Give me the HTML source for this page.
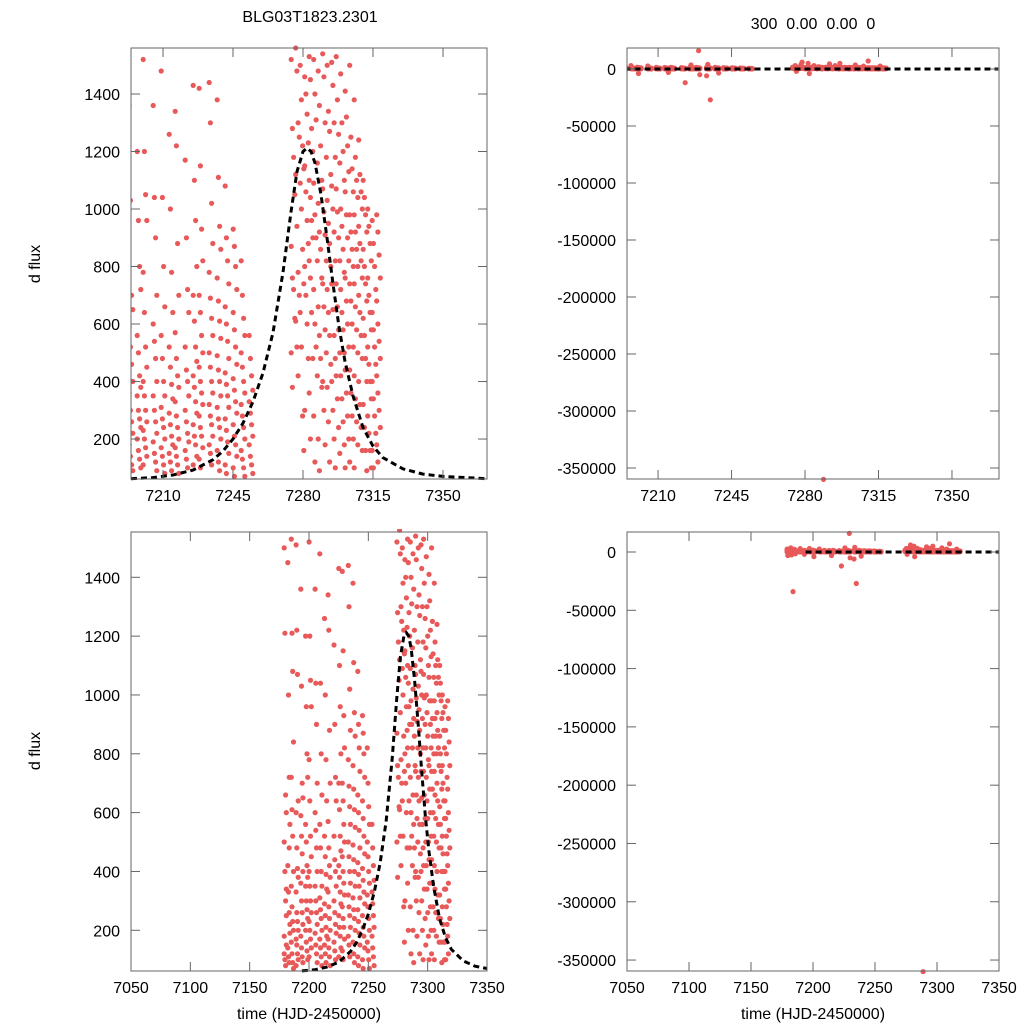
<!DOCTYPE html>
<html><head><meta charset="utf-8"><style>
html,body{margin:0;padding:0;background:#fff;overflow:hidden;}
svg{display:block;font-family:"Liberation Sans",sans-serif;}
</style></head><body>
<svg id="chart" width="1024" height="1024" viewBox="0 0 1024 1024" xmlns="http://www.w3.org/2000/svg">
<rect width="1024" height="1024" fill="#fff"/>
<text x="310" y="22" font-size="16" text-anchor="middle">BLG03T1823.2301</text>
<text x="813" y="29" font-size="16" text-anchor="middle" xml:space="preserve">300  0.00  0.00  0</text>
<text transform="translate(40,264) rotate(-90)" font-size="16" text-anchor="middle">d flux</text>
<text transform="translate(40,751) rotate(-90)" font-size="16" text-anchor="middle">d flux</text>
<text x="309" y="1019" font-size="16" text-anchor="middle">time (HJD-2450000)</text>
<text x="813" y="1019" font-size="16" text-anchor="middle">time (HJD-2450000)</text>
<g id="panels"></g>
</svg>
<script>
// observation nights and flux per night
const nights = [7180,7183,7186,7190,7194,7198,7201,7206,7210,7214,7217,7222,7226,7229,7234,7238,7242,7246,7250,7254,
  7275,7277.25,7279.5,7281.75,7284,7286.25,7288.5,7290.75,7293,7295.25,7297.5,7299.75,7302,7304.25,7306.5,7308.75,7311,7313.25,7315.5,7317.75];
const nightFlux = [
  [1500,1210,660,600,500,400,300,150,120,100,80,250,2500,-3000,1800,340,180],
  [1450,1000,720,560,420,330,260,190,140,110,90,-34000,3500,-2500,480,220],
  [1530,1210,1080,840,720,610,520,400,350,280,230,200,160,120,90,70,2200,-1500],
  [1510,1220,1070,640,600,480,410,380,330,260,230,200,170,150,120,100,80,2900],
  [1360,1030,700,650,590,520,460,400,360,300,260,220,180,140,110,90,-2000],
  [1200,960,800,720,560,500,420,380,350,300,270,240,200,160,130,100,3000],
  [1520,1200,1050,960,780,640,520,450,400,350,300,260,230,200,170,140,110,-4000],
  [1360,1040,900,700,600,540,480,400,350,300,260,220,190,150,120,90,2600],
  [1480,1040,800,660,560,480,400,350,310,270,240,200,170,140,110,80],
  [1260,1000,780,640,520,450,390,340,290,250,210,180,150,120,90,-3000],
  [1340,1220,880,700,570,480,420,380,330,280,240,200,170,140,110,80],
  [1170,900,720,640,520,440,400,350,300,260,220,190,160,130,100,-12000],
  [1430,1100,960,800,700,610,520,470,420,380,330,290,250,210,180,140,110,3500],
  [1420,1150,930,820,700,640,560,500,450,400,360,320,280,240,210,170,130,100,16000,-5000],
  [1440,1300,1020,880,780,690,620,560,500,450,400,360,320,280,250,210,180,150,110,-27000,-6000,4000],
  [1380,1110,940,860,760,680,610,550,490,440,400,350,310,270,240,200,160,120,90,-3500],
  [1080,900,820,740,660,600,540,480,430,390,350,310,270,230,190,150,110,80],
  [930,870,800,720,640,580,520,460,410,370,330,290,250,210,180,140,100,70],
  [820,700,620,560,500,450,400,360,320,280,240,200,160,130,100,70],
  [560,480,420,370,330,290,250,210,180,140,110,80],
  [1520,1280,1180,1050,870,760,720,620,500,380,3000,-2000],
  [1560,1480,1300,1250,1120,940,780,700,610,520,420,4000],
  [1500,1380,1220,1140,1090,1000,860,740,640,520,280,160,6000],
  [1460,1400,1330,1230,1150,1060,960,880,800,700,600,480,300,5000,-4000],
  [1530,1450,1280,1200,1100,1040,960,900,820,760,640,480,360,200,3000],
  [1520,1400,1310,1160,1090,980,900,820,720,600,520,420,280,120,2000],
  [1480,1360,1220,1100,1020,920,860,760,660,560,480,380,200,90,-360000],
  [1540,1460,1300,1180,1070,990,910,820,740,660,580,500,400,300,180,4500],
  [1500,1340,1270,1120,1030,950,880,800,720,640,560,460,380,260,120],
  [1510,1430,1300,1180,1080,1000,920,820,740,650,560,480,400,300,200,100,3000],
  [1530,1380,1260,1160,1070,990,900,820,740,660,580,500,420,340,240,150,5000],
  [1470,1300,1200,1100,1000,940,860,780,720,640,580,500,420,340,260,180],
  [1410,1320,1220,1130,1060,980,900,820,760,680,600,520,440,360,280,200,100],
  [1500,1250,1140,1060,980,920,860,800,740,680,600,520,440,360,280,200,120,3500],
  [1380,1180,1100,1040,980,920,860,800,740,660,580,500,420,340,260,180,100],
  [1240,1120,1060,1000,940,880,820,760,700,640,560,480,400,320,240,160,2500],
  [1100,1040,980,920,860,800,740,680,620,560,480,400,320,240,160,90,7000],
  [1000,940,880,820,760,700,640,580,520,460,400,340,280,220,160,100],
  [960,880,800,720,640,580,520,460,400,340,280,220,160,100,2500],
  [980,920,840,760,680,600,540,480,420,360,300,240,180,120]
];
// model curve
const curveT = [7194,7205,7215,7225,7235,7240,7245,7250,7255,7260,7265,7270,7274,7277,7280,7282,7284,7286,7289,7292,7295,7298,7301,7305,7310,7315,7320,7330,7340,7350,7372];
const curveF = [62,66,75,92,128,158,200,255,330,430,570,780,990,1130,1200,1212,1200,1160,1050,900,740,590,470,350,240,175,135,96,78,70,62];
// panel definitions
const panelNames = ['top-left-zoom','top-right-full','bottom-left-zoom','bottom-right-full'];
const xTicksTop = [7210,7245,7280,7315,7350];
const xTicksBottom = [7050,7100,7150,7200,7250,7300,7350];
const yTicksFlux = [200,400,600,800,1000,1200,1400];
const yTicksFull = [0,-50000,-100000,-150000,-200000,-250000,-300000,-350000];
const panels = [
 {x0:131,y0:48,x1:487,y1:479,xmin:7194,xmax:7372,ymin:61,ymax:1560,xt:xTicksTop,yt:yTicksFlux},
 {x0:627,y0:48,x1:999,y1:479,xmin:7195.2,xmax:7372.4,ymin:-359650,ymax:18400,xt:xTicksTop,yt:yTicksFull},
 {x0:131,y0:532,x1:487,y1:971,xmin:7050,xmax:7350,ymin:61.6,ymax:1554,xt:xTicksBottom,yt:yTicksFlux},
 {x0:627,y0:532,x1:999,y1:971,xmin:7050,xmax:7350,ymin:-359400,ymax:17160,xt:xTicksBottom,yt:yTicksFull}
];
const NS='http://www.w3.org/2000/svg';
const root=document.getElementById('panels');
function mk(tag,attrs,parent){const e=document.createElementNS(NS,tag);for(const k in attrs)e.setAttribute(k,attrs[k]);parent.appendChild(e);return e;}
panels.forEach((p,pi)=>{
  const xs=t=>p.x0+(t-p.xmin)/(p.xmax-p.xmin)*(p.x1-p.x0);
  const ys=v=>p.y1-(v-p.ymin)/(p.ymax-p.ymin)*(p.y1-p.y0);
  const g=mk('g',{},root);
  
  
  const cid='clip'+pi;
  const cp=mk('clipPath',{id:cid},g);
  mk('rect',{x:p.x0,y:p.y0-3,width:p.x1-p.x0,height:p.y1-p.y0+6},cp);
  const dg=mk('g',{'clip-path':'url(#'+cid+')'},g);
  nights.forEach((n,i)=>{
    nightFlux[i].forEach((f,j)=>{
      const cx=xs(n+(j%4)*0.6-0.9), cy=ys(f);
      if(cx<p.x0-3||cx>p.x1+3||cy<p.y0-3||cy>p.y1+3) return;
      const c=mk('circle',{cx:cx.toFixed(1),cy:cy.toFixed(1),r:2.6,fill:'#e8595a'},dg);
      
      
    });
  });
  let d='';
  curveT.forEach((t,i)=>{d+=(i?'L':'M')+xs(t).toFixed(1)+','+ys(pi%2?0:curveF[i]).toFixed(1);});
  const ln=mk('path',{d:d,fill:'none',stroke:'#000','stroke-width':3,'stroke-dasharray':'6,4'},dg);
  
  
  const fr=mk('rect',{x:p.x0,y:p.y0,width:p.x1-p.x0,height:p.y1-p.y0,fill:'none',stroke:'#666','stroke-width':1},g);
  
  
  p.xt.forEach(t=>{
    const x=xs(t);
    mk('line',{x1:x,x2:x,y1:p.y1,y2:p.y1-9,stroke:'#666'},g);
    mk('line',{x1:x,x2:x,y1:p.y0,y2:p.y0+9,stroke:'#666'},g);
    const tx=mk('text',{x:x,y:p.y1+22,'font-size':16,'text-anchor':'middle'},g);
    tx.textContent=t;
    
    
  });
  p.yt.forEach(v=>{
    const y=ys(v);
    mk('line',{x1:p.x0,x2:p.x0+9,y1:y,y2:y,stroke:'#666'},g);
    mk('line',{x1:p.x1,x2:p.x1-9,y1:y,y2:y,stroke:'#666'},g);
    const tx=mk('text',{x:p.x0-11,y:y+6,'font-size':16,'text-anchor':'end'},g);
    tx.textContent=v;
    
    
  });
});
</script>
</body></html>
